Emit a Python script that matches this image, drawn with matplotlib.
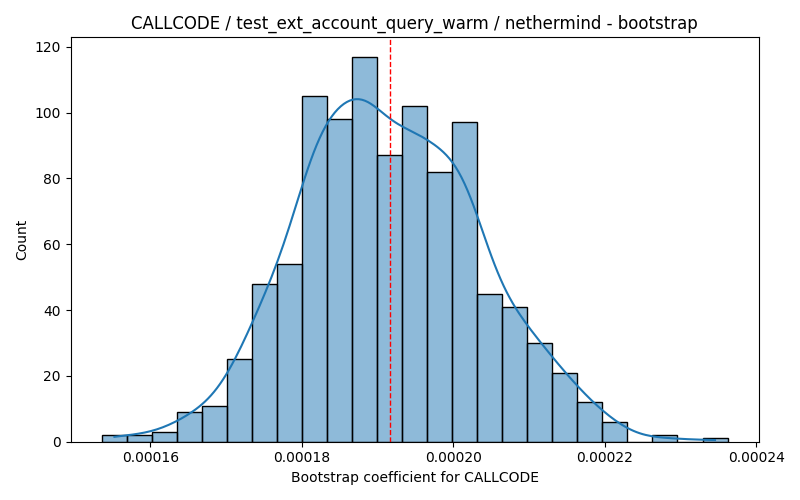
import numpy as np
import pandas as pd
import seaborn as sns
from matplotlib import pyplot as plt

# histogram: 25 equal bins
bin_start = 0.0001536
bin_end = 0.0002362
counts = [2, 2, 3, 9, 11, 25, 48, 54, 105, 98, 117, 87, 102,
          82, 97, 45, 41, 30, 21, 12, 6, 0, 2, 0, 1]
mean_value = 0.0001916

edges = np.linspace(bin_start, bin_end, len(counts) + 1)
centers = (edges[:-1] + edges[1:]) / 2
df = pd.DataFrame({'coef': centers, 'n': counts})

fig, ax = plt.subplots(figsize=(8, 5), dpi=100)
# weighted bin centres give a too-wide bandwidth, so narrow it
sns.histplot(data=df, x='coef', weights='n', bins=len(counts),
             binrange=(bin_start, bin_end), kde=True,
             kde_kws={'bw_adjust': 0.42}, ax=ax)
ax.axvline(mean_value, color='red', linestyle='--', linewidth=1)

ax.set_title("CALLCODE / test_ext_account_query_warm / nethermind - bootstrap")
ax.set_xlabel("Bootstrap coefficient for CALLCODE")
ax.set_ylabel("Count")

plt.tight_layout()
plt.savefig('out.png')
